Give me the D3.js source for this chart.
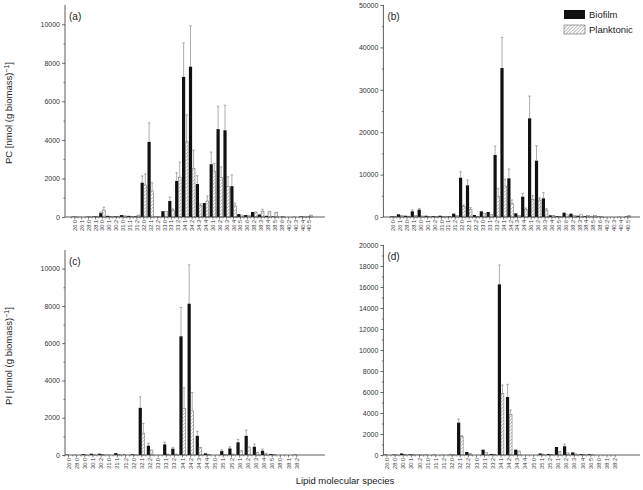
<!DOCTYPE html>
<html>
<head>
<meta charset="utf-8">
<script src="https://cdn.jsdelivr.net/npm/d3@7"></script>
<style>
  body { margin: 0; background: #fff; }
</style>
</head>
<body>
<script>
// categories
const topSpecies = ["26:0","26:1","28:0","28:1","30:0","30:1","30:2","31:0","31:1","31:2","32:0","32:1","32:2","33:0","33:1","33:2","34:1","34:2","34:3","34:4","36:1","36:2","36:3","36:4","36:5","36:6","38:2","38:3","38:4","38:5","38:6","40:2","40:3","40:4","40:5"];
const bottomSpecies = ["26:0","28:0","30:0","30:1","30:2","31:0","31:1","31:2","32:0","32:1","32:2","33:0","33:1","33:2","34:1","34:2","34:3","34:4","35:0","35:1","35:2","36:1","36:2","36:3","36:4","36:5","38:0","38:1","38:2"];

// (a) PC, nmol (g biomass)^-1
const pcABiofilm    = [20,10,20,30,200,60,30,100,60,40,1780,3900,20,300,830,1870,7270,7800,1710,725,2740,4560,4500,1600,150,100,260,130,60,30,10,0,10,30,20];
const pcABiofilmErr = [0,0,0,0,60,0,0,0,0,0,350,980,0,0,200,430,1760,2120,430,0,630,1190,1300,590,0,0,0,0,0,0,0,0,0,0,0];
const pcAPlank      = [10,0,10,20,360,40,20,60,40,100,1660,1350,10,280,360,2070,3900,2530,590,830,2380,2040,1570,570,100,80,260,300,280,250,20,0,0,10,100];
const pcAPlankErr   = [0,0,0,0,150,0,0,0,0,0,570,430,0,0,60,780,1400,940,100,260,400,560,520,150,0,0,0,100,0,0,0,0,0,0,0];

// (b) PC
const pcBBiofilm    = [150,630,300,1340,1730,300,200,300,100,790,9270,7470,470,1340,1180,14620,35130,9120,870,4790,23270,13280,4400,400,200,1020,790,300,200,100,100,0,0,50,100];
const pcBBiofilmErr = [0,0,0,350,300,0,0,0,0,0,1420,1250,0,0,0,2120,7240,2200,0,790,5260,3540,1340,0,0,0,0,0,0,0,0,0,0,0,0];
const pcBPlank      = [80,300,200,300,250,100,100,150,80,300,2440,1810,100,790,600,4790,7310,3230,300,1810,4170,4010,1650,300,150,500,400,500,400,300,50,0,0,0,300];
const pcBPlankErr   = [0,0,0,0,0,0,0,0,0,0,400,400,0,0,0,1970,1580,800,0,300,860,500,300,0,0,0,0,0,0,0,0,0,0,0,0];

// (c) PI
const piCBiofilm    = [20,10,50,70,70,10,100,20,40,2530,500,0,570,340,6370,8120,1030,90,0,210,350,680,1030,445,230,50,0,0,20];
const piCBiofilmErr = [0,0,0,0,0,0,0,0,0,590,125,0,110,70,1550,2080,250,0,0,70,90,160,310,145,90,0,0,0,0];
const piCPlank      = [0,0,10,10,20,0,20,0,10,1160,270,0,50,50,2500,2370,410,20,0,30,50,230,430,140,100,20,0,0,0];
const piCPlankErr   = [0,0,0,0,0,0,0,0,0,540,0,0,0,0,1100,980,0,0,0,0,0,0,0,0,0,0,0,0,0];

// (d) PI
const piDBiofilm    = [40,40,150,60,20,30,30,10,40,3080,285,0,510,100,16250,5520,510,0,0,150,100,760,830,250,80,80,0,0,0];
const piDBiofilmErr = [0,0,0,0,0,0,0,0,0,350,0,0,0,0,1840,1210,0,0,0,0,0,0,220,0,0,0,0,0,0];
const piDPlank      = [0,10,50,30,10,0,0,0,20,1740,150,0,250,80,5870,3870,380,0,0,80,50,320,200,100,30,20,0,0,0];
const piDPlankErr   = [0,0,0,0,0,0,0,0,0,100,0,0,0,0,790,410,0,0,0,0,0,0,0,0,0,0,0,0,0];

const topTicks = [0,2000,4000,6000,8000,10000];
const bTicks = [0,10000,20000,30000,40000,50000];
const dTicks = [0,2000,4000,6000,8000,10000,12000,14000,16000,18000,20000];

const width = 643, height = 490;
const font = "Arial, 'Liberation Sans', Helvetica, sans-serif";

const svg = d3.select("body").append("svg")
  .attr("width", width).attr("height", height)
  .attr("viewBox", `0 0 ${width} ${height}`);

svg.append("rect").attr("width", width).attr("height", height).attr("fill", "#fff");

const defs = svg.append("defs");
defs.append("pattern")
  .attr("id", "hatch")
  .attr("patternUnits", "userSpaceOnUse")
  .attr("width", 2.4).attr("height", 2.4)
  .attr("patternTransform", "rotate(45)")
  .append("line")
  .attr("x1", 0).attr("y1", 0).attr("x2", 0).attr("y2", 2.4)
  .attr("stroke", "#555").attr("stroke-width", 0.7);

const panels = [
  { letter: "(a)", species: topSpecies, bio: pcABiofilm, bioErr: pcABiofilmErr, pl: pcAPlank, plErr: pcAPlankErr,
    yMax: 11000, ticks: topTicks, axisX: 65, axisEnd: 325, y0: 217, yTop: 5, first: 74.8, step: 6.9, labelY: 220 },
  { letter: "(b)", species: topSpecies, bio: pcBBiofilm, bioErr: pcBBiofilmErr, pl: pcBPlank, plErr: pcBPlankErr,
    yMax: 50000, ticks: bTicks, axisX: 383.4, axisEnd: 640, y0: 217, yTop: 5, first: 393.2, step: 6.9, labelY: 220 },
  { letter: "(c)", species: bottomSpecies, bio: piCBiofilm, bioErr: piCBiofilmErr, pl: piCPlank, plErr: piCPlankErr,
    yMax: 11000, ticks: topTicks, axisX: 65, axisEnd: 325, y0: 455, yTop: 250, first: 68.5, step: 8.15, labelY: 458 },
  { letter: "(d)", species: bottomSpecies, bio: piDBiofilm, bioErr: piDBiofilmErr, pl: piDPlank, plErr: piDPlankErr,
    yMax: 20000, ticks: dTicks, axisX: 383.4, axisEnd: 640, y0: 455, yTop: 245, first: 386.9, step: 8.15, labelY: 458 },
];

panels.forEach((p) => {
  const g = svg.append("g");
  const n = p.species.length;
  const x = d3.scaleBand()
    .domain(p.species)
    .range([p.first - p.step / 2, p.first - p.step / 2 + n * p.step])
    .padding(0);
  const y = d3.scaleLinear().domain([0, p.yMax]).range([p.y0, p.yTop]);
  const half = 3.2;
  const cx = (d) => x(d) + x.bandwidth() / 2;

  const rows = p.species.map((s, i) => ({ s, bio: p.bio[i], bioErr: p.bioErr[i], pl: p.pl[i], plErr: p.plErr[i] }));

  // biofilm bars
  g.append("g").selectAll("rect").data(rows).join("rect")
    .attr("x", (d) => cx(d.s) - half)
    .attr("y", (d) => y(d.bio))
    .attr("width", half)
    .attr("height", (d) => Math.max(0, y(0) - y(d.bio)))
    .attr("fill", "#111");

  // planktonic bars
  g.append("g").selectAll("rect").data(rows.filter((d) => d.pl > 0)).join("rect")
    .attr("x", (d) => cx(d.s))
    .attr("y", (d) => y(d.pl))
    .attr("width", half - 0.3)
    .attr("height", (d) => Math.max(0, y(0) - y(d.pl)))
    .attr("fill", "url(#hatch)")
    .attr("stroke", "#666")
    .attr("stroke-width", 0.5);

  // error bars (upper only)
  const errs = [];
  rows.forEach((d) => {
    if (d.bioErr > 0) errs.push({ xc: cx(d.s) - half / 2, v: d.bio, e: d.bioErr });
    if (d.plErr > 0) errs.push({ xc: cx(d.s) + (half - 0.3) / 2, v: d.pl, e: d.plErr });
  });
  const eg = g.append("g").attr("stroke", "#777").attr("stroke-width", 0.6);
  eg.selectAll("line.v").data(errs).join("line").attr("class", "v")
    .attr("x1", (d) => d.xc).attr("x2", (d) => d.xc)
    .attr("y1", (d) => y(d.v)).attr("y2", (d) => y(d.v + d.e));
  eg.selectAll("line.c").data(errs).join("line").attr("class", "c")
    .attr("x1", (d) => d.xc - 1.3).attr("x2", (d) => d.xc + 1.3)
    .attr("y1", (d) => y(d.v + d.e)).attr("y2", (d) => y(d.v + d.e));

  // x axis
  g.append("line")
    .attr("x1", p.axisX).attr("x2", p.axisEnd)
    .attr("y1", p.y0).attr("y2", p.y0)
    .attr("stroke", "#333").attr("stroke-width", 0.8);
  g.append("g").selectAll("line").data(p.species).join("line")
    .attr("x1", (d) => cx(d)).attr("x2", (d) => cx(d))
    .attr("y1", p.y0).attr("y2", p.y0 + 2.5)
    .attr("stroke", "#333").attr("stroke-width", 0.6);
  g.append("g").selectAll("line").data(p.species).join("line")
    .attr("x1", (d) => x(d)).attr("x2", (d) => x(d))
    .attr("y1", p.y0).attr("y2", p.y0 + 1.5)
    .attr("stroke", "#333").attr("stroke-width", 0.5);
  g.append("g").selectAll("text").data(p.species).join("text")
    .attr("transform", (d) => `translate(${cx(d) + 2},${p.labelY}) rotate(-90)`)
    .attr("text-anchor", "end")
    .attr("font-family", font)
    .attr("font-size", 5.6)
    .attr("fill", "#333")
    .text((d) => d);

  // y axis
  const ya = g.append("g")
    .attr("transform", `translate(${p.axisX},0)`)
    .call(d3.axisLeft(y).tickValues(p.ticks).tickFormat(d3.format("d")).tickSize(3).tickPadding(2).tickSizeOuter(0));
  ya.select(".domain").attr("stroke", "#333").attr("stroke-width", 0.8)
    .attr("d", `M0,${p.y0}V${p.yTop}`);
  ya.selectAll(".tick line").attr("stroke", "#333").attr("stroke-width", 0.7);
  ya.selectAll(".tick text").attr("font-family", font).attr("font-size", 7).attr("fill", "#333");
  const minor = d3.range(1, p.ticks.length).map((i) => (p.ticks[i - 1] + p.ticks[i]) / 2);
  g.append("g").attr("transform", `translate(${p.axisX},0)`)
    .call(d3.axisLeft(y).tickValues(minor).tickSize(1.6).tickFormat(""))
    .call((a) => a.select(".domain").remove())
    .call((a) => a.selectAll(".tick line").attr("stroke", "#333").attr("stroke-width", 0.6));

  g.append("text")
    .attr("x", p.axisX + 4).attr("y", p.yTop + 15)
    .attr("font-family", font).attr("font-size", 10).attr("fill", "#222")
    .text(p.letter);
});

// y titles
const yTitle = (label, cy) => {
  const t = svg.append("text")
    .attr("transform", `translate(12,${cy}) rotate(-90)`)
    .attr("text-anchor", "middle")
    .attr("font-family", font).attr("font-size", 9.5).attr("fill", "#222");
  t.append("tspan").text(label + " [nmol (g biomass)");
  t.append("tspan").attr("dy", -3).attr("font-size", 7).text("−1");
  t.append("tspan").attr("dy", 3).text("]");
};
yTitle("PC", 113);
yTitle("PI", 356);

svg.append("text")
  .attr("x", 345).attr("y", 484)
  .attr("text-anchor", "middle")
  .attr("font-family", font).attr("font-size", 9.5).attr("fill", "#222")
  .text("Lipid molecular species");

// legend
const legendItems = [
  { label: "Biofilm", fill: "#111", stroke: "none" },
  { label: "Planktonic", fill: "url(#hatch)", stroke: "#666" },
];
const legend = svg.append("g").attr("transform", "translate(564,10)");
legendItems.forEach((item, i) => {
  const row = legend.append("g").attr("transform", `translate(0,${i * 15})`);
  row.append("rect").attr("width", 21).attr("height", 9)
    .attr("fill", item.fill).attr("stroke", item.stroke).attr("stroke-width", 0.6);
  row.append("text").attr("x", 25).attr("y", 8)
    .attr("font-family", font).attr("font-size", 9.5).attr("fill", "#222")
    .text(item.label);
});
</script>
</body>
</html>
